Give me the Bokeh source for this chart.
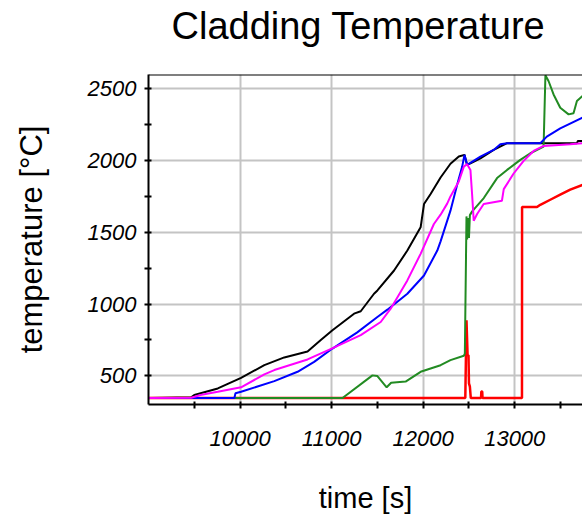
from bokeh.plotting import figure
from bokeh.models import Range1d, Span, Title, FixedTicker
from bokeh.embed import file_html
from bokeh.resources import INLINE

# ---- data (time [s], temperature [°C]) ----
black_t = [9000, 9466, 9500, 9757, 10011, 10265, 10483, 10737, 10882, 11009, 11245, 11318,
           11463, 11500, 11682, 11827, 11972, 12009, 12081, 12190, 12298, 12389, 12451,
           12480, 12516, 12625, 12770, 12916, 13680, 13690, 13740]
black_T = [345, 350, 366, 412, 486, 574, 628, 670, 750, 817, 933, 950,
           1072, 1095, 1234, 1373, 1535, 1697, 1767, 1882, 1978, 2028, 2040,
           1970, 1980, 2016, 2074, 2121, 2121, 2137, 2137]

magenta_t = [9000, 9466, 9566, 9757, 10011, 10265, 10374, 10737, 11000, 11318, 11536, 11645,
             11827, 11972, 12117, 12190, 12262, 12298, 12389, 12444, 12480, 12516, 12534,
             12552, 12589, 12661, 12860, 12880, 12988, 13097, 13206, 13315, 13606, 13740]
magenta_T = [345, 347, 366, 389, 420, 510, 540, 614, 690, 783, 875, 968,
             1165, 1350, 1558, 1623, 1700, 1750, 1854, 1958, 1975, 1935, 1767,
             1581, 1628, 1697, 1720, 1801, 1910, 1998, 2067, 2102, 2114, 2121]

blue_t = [9000, 9938, 9950, 10011, 10374, 10628, 10809, 11009, 11280, 11500, 11609, 11827,
          12009, 12154, 12190, 12298, 12371, 12426, 12451, 12480, 12625, 12770, 12843,
          12916, 13279, 13350, 13497, 13740]
blue_T = [345, 345, 378, 389, 463, 528, 597, 690, 803, 910, 961, 1072,
          1199, 1373, 1437, 1651, 1831, 1958, 2040, 1970, 2028, 2074, 2114,
          2121, 2121, 2167, 2225, 2299]

green_t = [9000, 11119, 11446, 11500, 11601, 11650, 11808, 11972, 12081, 12190, 12298, 12444,
           12455, 12473, 12480, 12490, 12500, 12510, 12535, 12662, 12807, 12916, 13061,
           13170, 13315, 13335, 13370, 13424, 13497, 13588, 13642, 13679, 13740]
green_T = [345, 345, 503, 498, 420, 452, 460, 528, 551, 574, 609, 640,
           655, 1611, 1450, 1600, 1460, 1620, 1646, 1739, 1878, 1935, 2005,
           2051, 2097, 2595, 2553, 2461, 2368, 2322, 2330, 2415, 2450]

red_t = [9000, 12460, 12473, 12485, 12495, 12500, 12510, 12520, 12632, 12635, 12645, 12648,
         13079, 13080, 13243, 13279, 13388, 13497, 13606, 13740]
red_T = [345, 345, 887, 643, 643, 447, 424, 345, 345, 390, 390, 345,
         345, 1676, 1676, 1692, 1727, 1762, 1797, 1831]

x_major = [10000, 11000, 12000, 13000]
x_minor = [9500, 10500, 11500, 12500, 13500]
y_major = [500, 1000, 1500, 2000, 2500]
y_minor = [750, 1250, 1750, 2250]

X_START, X_END = 9000, 13740
Y_START, Y_END = 300, 2600

FONT = "Liberation Sans"

p = figure(width=582, height=516, output_backend="svg", toolbar_location=None,
           x_range=Range1d(X_START, X_END), y_range=Range1d(Y_START, Y_END),
           min_border_left=148, min_border_right=0, min_border_top=74, min_border_bottom=111,
           outline_line_color=None, background_fill_color="white", border_fill_color="white")

# blank spacer between frame and title (first "above" item sits next to the frame)
p.add_layout(Title(text=" ", text_font=FONT, text_font_size="10px", standoff=15,
                   text_color="white"), "above")
p.add_layout(Title(text="Cladding Temperature", align="left", offset=23, standoff=0,
                   text_font=FONT, text_font_size="38px", text_font_style="normal",
                   text_color="black"), "above")

# axes
p.xaxis.ticker = FixedTicker(ticks=x_major, minor_ticks=x_minor)
p.yaxis.ticker = FixedTicker(ticks=y_major, minor_ticks=y_minor)
for ax in (p.xaxis[0], p.yaxis[0]):
    ax.axis_line_color = "black"
    ax.axis_line_width = 2
    ax.major_tick_line_color = "black"
    ax.minor_tick_line_color = "black"
    ax.major_tick_line_width = 2
    ax.minor_tick_line_width = 2
    ax.major_tick_in = 3
    ax.major_tick_out = 4
    ax.minor_tick_in = 3
    ax.minor_tick_out = 4
    ax.major_label_text_font = FONT
    ax.major_label_text_font_size = "22px"
    ax.major_label_text_font_style = "italic"
    ax.major_label_text_color = "black"
    ax.major_label_text_line_height = 1.0
    ax.axis_label_text_font = FONT
    ax.axis_label_text_font_style = "normal"
    ax.axis_label_text_color = "black"
    ax.axis_label_text_line_height = 1.0

p.xaxis.axis_label = "time [s]"
p.yaxis.axis_label = "temperature [°C]"
p.xaxis.axis_label_text_font_size = "29px"
p.yaxis.axis_label_text_font_size = "31px"
p.xaxis.major_label_standoff = 22
p.xaxis.axis_label_standoff = 33
p.yaxis.major_label_standoff = 8
p.yaxis.axis_label_standoff = 36

p.xgrid.grid_line_color = "#c4c4c4"
p.ygrid.grid_line_color = "#c4c4c4"
p.xgrid.grid_line_width = 2
p.ygrid.grid_line_width = 2

# top border
p.add_layout(Span(location=Y_END, dimension="width", line_color="black", line_width=2))

# series (drawing order chosen to match the overlaps)
p.line(black_t, black_T, line_color="black", line_width=2)
p.line(red_t, red_T, line_color="#ff0000", line_width=2.5)
p.line(green_t, green_T, line_color="#228b22", line_width=2)
p.line(blue_t, blue_T, line_color="#0000ff", line_width=2)
p.line(magenta_t, magenta_T, line_color="#ff00ff", line_width=2)

open("out.html", "w").write(file_html(p, INLINE))
